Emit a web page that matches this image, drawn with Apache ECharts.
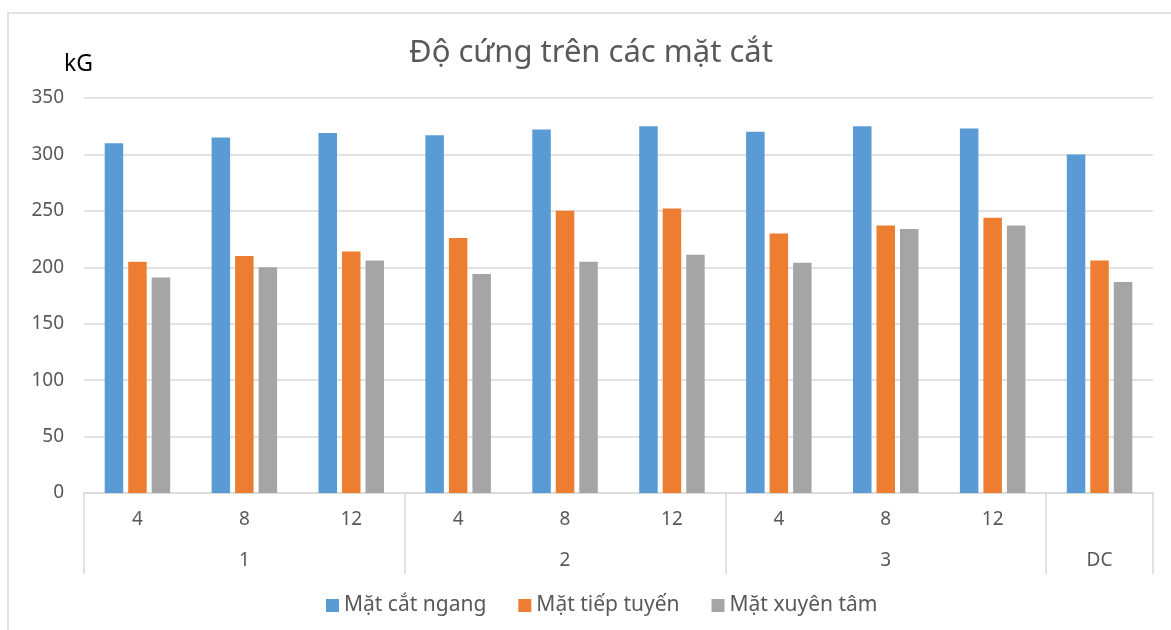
<!DOCTYPE html>
<html style="height: 100%;">
<head>
  <meta charset="utf-8">
  <title>Độ cứng trên các mặt cắt</title>
  <script src="https://cdn.jsdelivr.net/npm/echarts@6/dist/echarts.min.js"></script>
</head>
<body style="height: 100%; margin: 0; background: #fff;">
  <div id="container" style="width: 1171px; height: 630px;"></div>
  <script type="text/javascript">
    // nhãn trục
    var subLabels = ['4', '8', '12', '4', '8', '12', '4', '8', '12', ''];
    var groupLabels = ['', '1', '', '', '2', '', '', '3', '', 'DC'];
    var seriesNames = ['Mặt cắt ngang', 'Mặt tiếp tuyến', 'Mặt xuyên tâm'];

    // số liệu (kG)
    var catNgang = [310, 315, 319, 317, 322, 325, 320, 325, 323, 300];
    var tiepTuyen = [205, 210, 214, 226, 250, 252, 230, 237, 244, 206];
    var xuyenTam = [191, 200, 206, 194, 205, 211, 204, 234, 237, 187];

    var colors = ['#5B9BD5', '#ED7D31', '#A5A5A5'];
    var txt = '#595959';
    var font = 'Noto Sans';

    var dom = document.getElementById('container');
    var myChart = echarts.init(dom);

    function bar(name, data) {
      return {
        name: name,
        type: 'bar',
        data: data,
        barWidth: 18.5,
        barGap: '27%',
        xAxisIndex: 0
      };
    }

    var option = {
      animation: false,
      color: colors,
      textStyle: { fontFamily: font },
      title: {
        text: 'Độ cứng trên các mặt cắt',
        left: 404,
        top: 33,
        textStyle: { fontSize: 31, fontWeight: 'normal', color: txt, fontFamily: font }
      },
      graphic: [
        {
          type: 'rect',
          shape: { x: 8, y: 13, width: 1300, height: 800 },
          style: { fill: 'none', stroke: '#d9d9d9', lineWidth: 1.5 },
          silent: true
        },
        {
          type: 'text',
          left: 64,
          top: 53,
          style: { text: 'kG', fontSize: 23, fill: '#000', fontFamily: font }
        }
      ],
      legend: {
        bottom: 9,
        left: 321,
        icon: 'rect',
        itemWidth: 13,
        itemHeight: 13,
        itemGap: 32,
        textStyle: { fontSize: 21, color: txt, fontFamily: font },
        data: seriesNames
      },
      grid: { left: 84, right: 18, top: 98, bottom: 137 },
      xAxis: [
        {
          type: 'category',
          data: subLabels,
          axisLine: { lineStyle: { color: '#d9d9d9', width: 1.5 } },
          axisTick: {
            show: true,
            length: 81,
            interval: function (i) { return i === 0 || i === 3 || i === 6 || i === 9; },
            lineStyle: { color: '#d9d9d9', width: 1.5 }
          },
          axisLabel: { fontSize: 19, color: txt, margin: 17, interval: 0 }
        },
        {
          type: 'category',
          position: 'bottom',
          data: groupLabels,
          axisLine: { show: false },
          axisTick: { show: false },
          axisLabel: { fontSize: 19, color: txt, margin: 58, interval: 0 }
        }
      ],
      yAxis: {
        type: 'value',
        min: 0,
        max: 350,
        interval: 50,
        axisLine: { show: false },
        axisTick: { show: false },
        axisLabel: { fontSize: 19, color: txt, margin: 20 },
        splitLine: { lineStyle: { color: '#d9d9d9', width: 1.5 } }
      },
      series: [
        bar(seriesNames[0], catNgang),
        bar(seriesNames[1], tiepTuyen),
        bar(seriesNames[2], xuyenTam)
      ]
    };

    myChart.setOption(option);
    window.onresize = function () {
      myChart.resize();
    };
  </script>
</body>
</html>
